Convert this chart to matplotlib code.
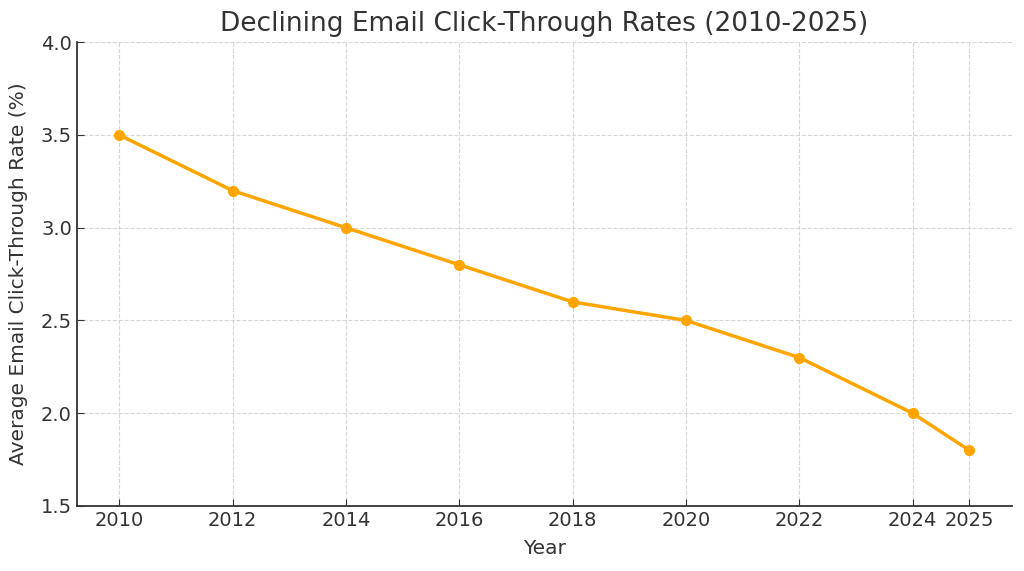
import matplotlib.pyplot as plt

# dados do gráfico
years = [2010, 2012, 2014, 2016, 2018, 2020, 2022, 2024, 2025]
ctr = [3.5, 3.2, 3.0, 2.8, 2.6, 2.5, 2.3, 2.0, 1.8]

text_color = "#333333"
plt.rcParams["text.color"] = text_color
plt.rcParams["axes.labelcolor"] = text_color
plt.rcParams["xtick.color"] = text_color
plt.rcParams["ytick.color"] = text_color

fig = plt.figure(figsize=(10.24, 5.71), dpi=100)
ax = fig.add_axes([0.075, 0.114, 0.913, 0.812])

ax.plot(years, ctr, marker="o", color="orange", linewidth=2.5, markersize=7)

ax.set_title("Declining Email Click-Through Rates (2010-2025)", fontsize=19, pad=8)
ax.set_xlabel("Year", fontsize=14.5, labelpad=7)
ax.set_ylabel("Average Email Click-Through Rate (%)", fontsize=14.5, labelpad=9)

ax.set_xticks(years)
ax.set_ylim(1.5, 4.0)
ax.set_yticks([1.5, 2.0, 2.5, 3.0, 3.5, 4.0])
ax.tick_params(labelsize=14, direction="in", length=5, color=text_color)

ax.grid(True, linestyle="--", color="#cccccc", linewidth=0.8, alpha=0.8)

ax.spines["top"].set_visible(False)
ax.spines["right"].set_visible(False)
for s in ["left", "bottom"]:
    ax.spines[s].set_color(text_color)
    ax.spines[s].set_linewidth(1.3)

fig.savefig("out.png", dpi=100)
